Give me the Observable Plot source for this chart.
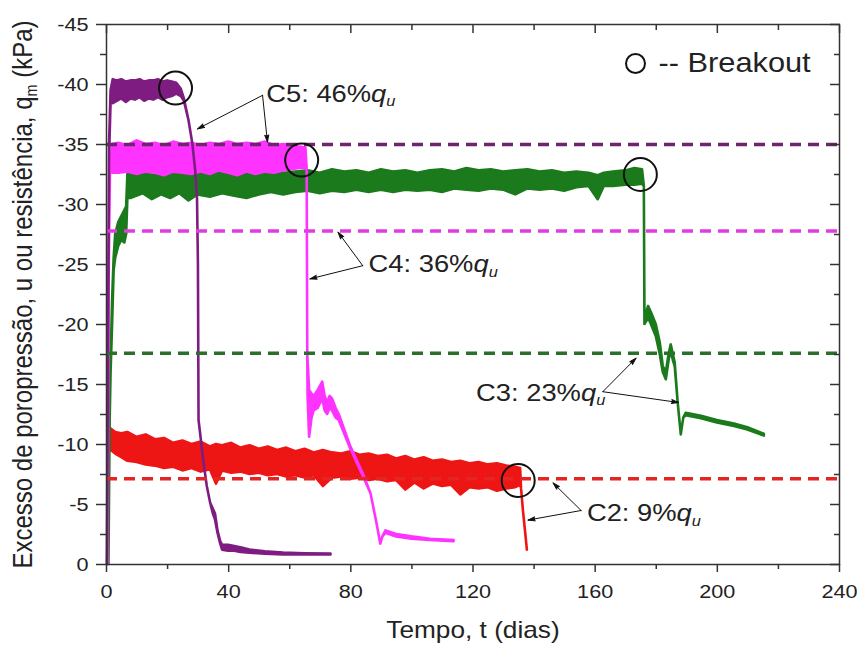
<!DOCTYPE html>
<html>
<head>
<meta charset="utf-8">
<script src="https://cdn.jsdelivr.net/npm/d3@7"></script>
<script src="https://cdn.jsdelivr.net/npm/@observablehq/plot@0.6"></script>
<style>
  html, body { margin: 0; padding: 0; background: #fff; }
  #chart svg { font-family: "Liberation Sans", Arial, sans-serif; background: #fff; }
</style>
</head>
<body>
<div id="chart"></div>
<script>
// ---------- tick values ----------
const xMajorTicks = [0, 40, 80, 120, 160, 200, 240];
const xMinorTicks = [20, 60, 100, 140, 180, 220];
const yMajorTicks = [0, -5, -10, -15, -20, -25, -30, -35, -40, -45];
const yMinorTicks = [-2.5, -7.5, -12.5, -17.5, -22.5, -27.5, -32.5, -37.5, -42.5];

const xTitle = "Tempo, t (dias)";
const yTitle = "Excesso de poropressão, u ou resistência, q_m (kPa)";

// ---------- series: [t (dias), upper envelope, lower envelope] (kPa) ----------
const c5Series = [
  [0.3, 0, 0], [0.7, -20, -20], [1.0, -35, -34], [1.5, -39.5, -38.5], [2.2, -40.4, -38.4],
  [3.5, -40.3, -38.6], [5, -40.4, -38.8], [6.5, -40.2, -38.5], [8, -40.3, -38.8],
  [9.5, -40.3, -38.7], [11, -40.4, -38.9], [12.5, -40.2, -38.6], [14, -40.3, -38.8],
  [15.5, -40.3, -38.7], [17, -40.4, -38.9], [18.5, -40.2, -38.7], [20, -40.3, -38.9],
  [21.5, -40.2, -39.0], [23, -40.1, -39.2], [24.5, -39.6, -39.0], [25.5, -38.8, -38.6],
  [27, -37, -37], [28.3, -35, -35], [29.2, -32.8, -32.8], [29.8, -30.5, -30.5],
  [30.1, -25, -25], [30.3, -12, -12], [31.0, -10.5, -10.5], [31.8, -8.7, -8.7],
  [33.0, -6.5, -6.5], [34.1, -5.1, -5.1], [35.0, -4.6, -4.2], [35.7, -4.2, -3.7],
  [36.5, -2.8, -2.6], [37.4, -1.9, -1.7], [38, -1.6, -1.2], [40, -1.6, -1.1],
  [42, -1.5, -1.1], [44, -1.4, -1.0], [47, -1.2, -0.95], [52, -1.05, -0.85],
  [58, -0.95, -0.8], [65, -0.9, -0.8], [73.5, -0.88, -0.8]
];
const c4Series = [
  [0.5, 0, 0], [0.9, -25, -25], [1.3, -33, -33], [2.0, -35.0, -32.6],
  [4, -35.1, -32.6], [7, -34.9, -32.7], [10, -35.3, -32.5], [13, -35.0, -32.7],
  [16, -35.1, -32.6], [19, -34.9, -32.4], [22, -35.2, -32.7], [25, -35.0, -32.6],
  [28, -35.1, -32.5], [31, -34.9, -32.7], [34, -35.1, -32.5], [37, -35.0, -32.8],
  [40, -35.2, -32.6], [43, -35.0, -32.4], [46, -35.1, -32.7], [49, -35.0, -32.5],
  [52, -35.2, -32.7], [55, -34.9, -32.6], [58, -35.0, -32.8], [61, -34.9, -32.9],
  [63, -34.8, -33.0], [65.3, -34.7, -33.0], [65.7, -33, -33], [65.9, -17.5, -17.5],
  [66.0, -17.0, -14.0], [66.5, -14.5, -10.6], [67.3, -14.2, -12.2], [68.0, -14.0, -12.8],
  [69.3, -14.5, -13.0], [70.8, -15.2, -13.8], [71.6, -14.0, -12.8], [72.4, -13.5, -12.5],
  [73.2, -14.0, -13.0], [74.0, -13.8, -12.8], [75.2, -13.0, -12.2], [76.2, -12.5, -12.0],
  [80, -9.8, -9.6], [84, -7.6, -7.4], [86.6, -5.9, -5.9], [88.5, -3.5, -3.5],
  [89.8, -1.7, -1.7], [90.5, -2.3, -2.3], [91.5, -2.8, -2.6], [95, -2.5, -2.3],
  [100, -2.3, -2.1], [106, -2.1, -2.0], [113.8, -2.0, -1.9]
];
const c3Series = [
  [0.8, 0, 0], [1.2, -12, -12], [1.5, -17, -16], [2.0, -22, -20], [2.5, -25.5, -24.5],
  [3.0, -27.5, -25.5], [4, -28.5, -26.5], [5, -29.0, -27.0], [6, -29.5, -26.8],
  [6.6, -29.8, -27.5], [7.0, -32.5, -30.5], [8, -32.8, -30.5], [9, -32.6, -30.6],
  [12, -32.9, -30.9], [15, -32.4, -30.4], [18, -32.7, -30.8], [21, -32.5, -30.5],
  [24, -32.8, -30.9], [27, -32.6, -30.3], [30, -32.7, -30.8], [34, -32.5, -30.6],
  [38, -32.8, -30.9], [42, -32.6, -30.7], [46, -32.7, -30.5], [50, -32.5, -30.8],
  [54, -32.8, -31.0], [58, -32.6, -30.8], [62, -32.7, -31.0], [66, -32.8, -31.1],
  [70, -32.6, -30.9], [74, -32.9, -31.1], [78, -32.7, -31.0], [82, -32.8, -31.2],
  [86, -32.6, -31.0], [90, -32.9, -31.2], [94, -32.7, -31.0], [98, -32.8, -31.2],
  [102, -32.6, -31.1], [106, -32.8, -31.2], [110, -32.9, -31.0], [114, -32.7, -31.3],
  [118, -33.0, -31.2], [122, -32.8, -31.1], [126, -32.9, -31.3], [130, -32.7, -31.2],
  [134, -32.8, -30.8], [138, -32.9, -31.3], [142, -32.7, -31.2], [146, -32.8, -31.3],
  [150, -32.6, -31.1], [154, -32.7, -31.4], [158, -32.6, -31.5], [161, -32.4, -30.4],
  [163, -32.6, -31.5], [166, -32.7, -31.5], [170, -32.8, -31.6], [173, -33.0, -31.6],
  [175.5, -32.9, -31.7], [176.1, -31.5, -31.5], [176.3, -20.5, -20.0], [177.5, -21.5, -20.5],
  [178.4, -21.0, -20.0], [180, -20, -19.0], [181.3, -18.5, -17.5], [182.3, -16.5, -16.0],
  [183.3, -16.0, -15.4], [184.2, -17.5, -17.0], [184.9, -18.3, -17.8], [185.6, -17.5, -17.0],
  [186.2, -16.8, -16.5], [187.2, -13.4, -13.4], [188.2, -10.8, -10.8], [189, -12.2, -12.2],
  [189.8, -12.6, -12.4], [194.8, -12.35, -12.15], [200, -12.0, -11.8], [205.6, -11.7, -11.5],
  [210, -11.4, -11.2], [215.4, -10.85, -10.7]
];
const c2Series = [
  [0.4, 0, 0], [0.6, -11.5, -11.5], [1, -11.4, -9.6], [3, -11.0, -9.2], [5, -10.9, -8.9],
  [7, -11.0, -8.6], [10, -10.6, -8.5], [13, -10.8, -8.3], [16, -10.4, -8.2], [19, -10.5, -8.0],
  [22, -10.1, -8.1], [25, -10.3, -7.8], [28, -10.0, -8.0], [31, -10.2, -7.7], [34, -9.8, -7.9],
  [36, -10.0, -6.7], [38, -9.9, -7.8], [41, -10.1, -7.6], [44, -9.7, -7.7], [47, -9.9, -7.5],
  [50, -9.6, -7.6], [53, -9.8, -7.4], [56, -9.5, -7.5], [59, -9.7, -7.3], [62, -9.4, -7.4],
  [65, -9.6, -7.2], [68, -9.3, -7.4], [71, -9.5, -6.5], [74, -9.3, -7.2], [77, -9.2, -7.3],
  [80, -9.4, -7.1], [83, -9.1, -7.2], [86, -9.2, -7.0], [89, -9.0, -7.1], [92, -9.1, -6.9],
  [95, -8.8, -7.0], [98, -9.0, -6.2], [101, -8.7, -6.8], [104, -8.9, -6.3], [107, -8.6, -6.7],
  [110, -8.7, -6.5], [113, -8.5, -6.6], [116, -8.6, -5.8], [119, -8.4, -6.4], [122, -8.5, -6.3],
  [125, -8.3, -6.4], [128, -8.4, -6.1], [131, -8.2, -6.3], [134, -8.1, -6.4], [135.6, -8.0, -6.6],
  [135.9, -6.3, -6.3], [136.5, -4.5, -4.5], [137.3, -2.5, -2.5], [137.8, -1.2, -1.2]
];

// drawing order bottom -> top
const seriesNames  = ["C2", "C3", "C4", "C5"];
const seriesData   = [c2Series, c3Series, c4Series, c5Series];
const seriesColors = ["#ee1515", "#1b7a1b", "#ff33ff", "#7e1c82"];

// threshold (dashed) levels
const thresholdNames  = ["C5", "C4", "C3", "C2"];
const thresholdLevels = [-35.0, -27.8, -17.6, -7.15];
const thresholdColors = ["#6e256e", "#e03ce0", "#2c6f2c", "#e52424"];

// breakout points
const breakoutT = [22.6, 63.9, 174.8, 134.8];
const breakoutU = [-39.7, -33.7, -32.5, -7.0];

// annotation labels
const labelTexts = ["C5: 46%q_u", "C4: 36%q_u", "C3: 23%q_u", "C2: 9%q_u"];
const labelT = [52.3, 85.8, 121.0, 157.3];
const labelU = [-39.2, -25.0, -14.3, -4.25];

// annotation arrows (from label to target)
const arrowFromT = [51.1, 51.1, 83.9, 83.9, 162.5, 162.5, 155.4, 155.4];
const arrowFromU = [-39.1, -39.1, -24.9, -24.9, -14.4, -14.4, -4.5, -4.5];
const arrowToT   = [29.8, 52.7, 75.8, 66.6, 173.4, 187.3, 146.2, 138.0];
const arrowToU   = [-36.3, -35.2, -27.7, -23.8, -17.2, -13.5, -6.8, -3.7];

const legendText = "-- Breakout";

// ---------- build tables ----------
const areaRows = seriesData.flatMap((s, k) =>
  s.map(([t, y1, y2]) => ({name: seriesNames[k], t, y1, y2})));
const thresholdRows = thresholdLevels.map((u, i) => ({name: thresholdNames[i], u, color: thresholdColors[i]}));
const breakoutRows = breakoutT.map((t, i) => ({t, u: breakoutU[i]}));
const labelRows = labelTexts.map((txt, i) => ({txt, t: labelT[i], u: labelU[i]}));
const arrowRows = arrowFromT.map((t, i) => ({x1: t, y1: arrowFromU[i], x2: arrowToT[i], y2: arrowToU[i]}));

const axisColor = "#333";

const chart = Plot.plot({
  width: 859,
  height: 646,
  marginLeft: 106,
  marginRight: 20,
  marginTop: 24,
  marginBottom: 82,
  style: {fontFamily: "Liberation Sans, Arial, sans-serif", color: "#222", background: "#fff"},
  x: {domain: [0, 240]},
  y: {domain: [0, -45]},
  marks: [
    // series (noisy envelopes)
    ...seriesNames.map((name, k) =>
      Plot.areaY(areaRows.filter(d => d.name === name), {
        x: "t", y1: "y1", y2: "y2",
        fill: seriesColors[k], stroke: seriesColors[k],
        strokeWidth: 2.6, strokeLinejoin: "round", curve: "linear"
      })
    ),
    // dashed threshold lines
    Plot.ruleY(thresholdRows, {y: "u", x1: 0, x2: 240, stroke: "color", strokeWidth: 3.5, strokeDasharray: "11,7"}),
    // breakout circles
    Plot.dot(breakoutRows, {x: "t", y: "u", r: 16.5, stroke: "#111", strokeWidth: 2, fill: "none"}),
    // annotation arrows (filled heads)
    Plot.arrow(arrowRows, {x1: "x1", y1: "y1", x2: "x2", y2: "y2", stroke: "#111", fill: "#111", strokeWidth: 1, headLength: 11, headAngle: 32}),
    // annotation labels
    Plot.text(labelRows, {x: "t", y: "u", text: "txt", textAnchor: "start", lineAnchor: "middle", fontSize: 24, fill: "#222"}),
    // legend
    Plot.dot([legendText], {frameAnchor: "top-right", dx: -204, dy: 39, r: 9.5, stroke: "#111", strokeWidth: 2, fill: "none"}),
    Plot.text([legendText], {frameAnchor: "top-right", dx: -181, dy: 39, text: d => d, textAnchor: "start", lineAnchor: "middle", fontSize: 27, fill: "#222"}),
    // frame
    Plot.frame({stroke: axisColor, strokeWidth: 1.5}),
    // axes: bottom / left (outward), top / right (inward)
    Plot.axisX(xMajorTicks, {anchor: "bottom", tickSize: 8, tickPadding: 12, fontSize: 19, stroke: axisColor, strokeWidth: 1.5, fill: "#222", tickFormat: d => `${d}`, label: null}),
    Plot.axisX(xMinorTicks, {anchor: "bottom", tickSize: 5, stroke: axisColor, strokeWidth: 1.5, fill: "none", label: null}),
    Plot.axisX(xMajorTicks, {anchor: "top", tickSize: 8, dy: 8, stroke: axisColor, strokeWidth: 1.5, fill: "none", label: null}),
    Plot.axisX(xMinorTicks, {anchor: "top", tickSize: 5, dy: 5, stroke: axisColor, strokeWidth: 1.5, fill: "none", label: null}),
    Plot.axisY(yMajorTicks, {anchor: "left", tickSize: 10, tickPadding: 8, fontSize: 19, stroke: axisColor, strokeWidth: 1.5, fill: "#222", tickFormat: d => `${d}`, label: null}),
    Plot.axisY(yMinorTicks, {anchor: "left", tickSize: 6, stroke: axisColor, strokeWidth: 1.5, fill: "none", label: null}),
    Plot.axisY(yMajorTicks, {anchor: "right", tickSize: 10, dx: -10, stroke: axisColor, strokeWidth: 1.5, fill: "none", label: null}),
    Plot.axisY(yMinorTicks, {anchor: "right", tickSize: 6, dx: -6, stroke: axisColor, strokeWidth: 1.5, fill: "none", label: null}),
    // axis titles
    Plot.text([xTitle], {frameAnchor: "bottom", dy: 57, text: d => d, textAnchor: "middle", lineAnchor: "top", fontSize: 23, fill: "#222"}),
    Plot.text([yTitle], {frameAnchor: "left", dx: -94, text: d => d, textAnchor: "middle", rotate: -90, lineAnchor: "top", fontSize: 24, fill: "#222"})
  ]
});

const NS = "http://www.w3.org/2000/svg";
// rich text: q with subscript (italic q_u in labels)
chart.querySelectorAll("text").forEach(t => {
  const s = t.textContent;
  const m = s.match(/^(.*)q_([um])(.*)$/);
  if (!m) return;
  const italic = m[2] === "u";
  while (t.firstChild) t.removeChild(t.firstChild);
  const a = document.createElementNS(NS, "tspan"); a.textContent = m[1];
  const q = document.createElementNS(NS, "tspan"); q.textContent = "q";
  if (italic) q.setAttribute("font-style", "italic");
  const sub = document.createElementNS(NS, "tspan"); sub.textContent = m[2];
  sub.setAttribute("font-size", "0.6em"); sub.setAttribute("dy", "0.3em");
  if (italic) sub.setAttribute("font-style", "italic");
  t.append(a, q, sub);
  if (m[3]) {
    const b = document.createElementNS(NS, "tspan"); b.textContent = m[3];
    b.setAttribute("dy", "-0.18em");
    t.append(b);
  }
});
// the reference lettering is slightly wide: stretch glyphs horizontally about their anchor
const stretch = 1.14;
const isNum = v => v != null && /^-?[\d.]+(e-?\d+)?$/.test(v.trim());
chart.querySelectorAll("text").forEach(t => {
  let tr = t.getAttribute("transform");
  if (tr == null) {
    tr = "";
    const x = t.getAttribute("x"), y = t.getAttribute("y");
    if (isNum(x)) { tr += ` translate(${x},0)`; t.removeAttribute("x"); }
    if (isNum(y)) { tr += ` translate(0,${y})`; t.removeAttribute("y"); }
  }
  const rotated = /rotate/.test(tr);
  t.setAttribute("transform", (tr + (rotated ? ` scale(1,${stretch})` : ` scale(${stretch},1)`)).trim());
});

document.getElementById("chart").append(chart);
</script>
</body>
</html>
